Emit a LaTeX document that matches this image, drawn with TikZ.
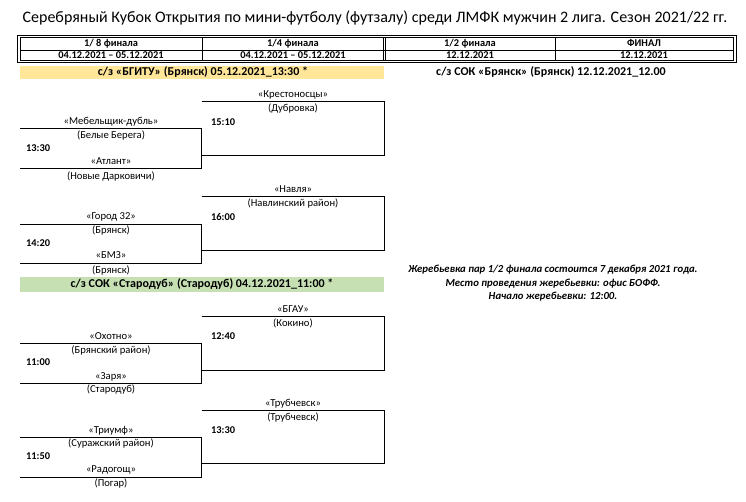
\documentclass[tikz,border=0pt]{standalone}
\usepackage{fontspec}
\setmainfont{Carlito}
\definecolor{barY}{HTML}{FFE699}
\definecolor{barG}{HTML}{C6E0B4}
\tikzset{
  team/.style={inner sep=0pt, anchor=center, font=\fontsize{10.6}{12}\selectfont},
  tm/.style={inner sep=0pt, anchor=west, font=\fontsize{10.4}{12}\selectfont\bfseries},
  hdr/.style={inner sep=0pt, anchor=center, font=\fontsize{10.4}{12}\selectfont\bfseries},
  ven/.style={inner sep=0pt, anchor=center, font=\fontsize{12}{14}\selectfont\bfseries},
  note/.style={inner sep=0pt, anchor=center, font=\fontsize{10.75}{12}\selectfont\bfseries\itshape},
  br/.style={line width=0.9pt},
  tb/.style={line width=0.8pt}
}
\begin{document}
\begin{tikzpicture}[x=1pt,y=-1pt]
\useasboundingbox (0,0) rectangle (746,501);
% title
\node[inner sep=0pt, font=\fontsize{16}{19}\selectfont] (title) at (375,18) {Серебряный Кубок Открытия по мини-футболу (футзалу) среди ЛМФК мужчин 2 лига. Сезон 2021/22 гг.};
% table
\draw[tb] (17,35) rectangle (736,62.5);
\draw[tb] (20,37.5) rectangle (733,60);
\draw[tb] (20,50) -- (733,50);
\draw[tb] (202,37.5) -- (202,60);
\draw[tb] (383.3,37.5) -- (383.3,60);
\draw[tb] (385.8,37.5) -- (385.8,60);
\draw[tb] (555,37.5) -- (555,60);
\node[hdr] (h1) at (111,43.5) {1/ 8 финала};
\node[hdr] (d1) at (111,55) {04.12.2021 – 05.12.2021};
\node[hdr] (h2) at (293,43.5) {1/4 финала};
\node[hdr] (d2) at (293,55) {04.12.2021 – 05.12.2021};
\node[hdr] (h3) at (470,43.5) {1/2 финала};
\node[hdr] (d3) at (470,55) {12.12.2021};
\node[hdr] (h4) at (644,43.5) {ФИНАЛ};
\node[hdr] (d4) at (644,55) {12.12.2021};
% venue bars
\fill[barY] (20,65.5) rectangle (384.3,79);
\node[ven] (v1) at (203,72) {с/з «БГИТУ» (Брянск) 05.12.2021\_13:30 *};
\node[ven] (v2) at (551,72) {с/з СОК «Брянск» (Брянск) 12.12.2021\_12.00};
\fill[barG] (20,277.3) rectangle (384.3,291.7);
\node[ven] (v3) at (202,284.5) {с/з СОК «Стародуб» (Стародуб) 04.12.2021\_11:00 *};
% notes
\node[note] (n1) at (553,270) {Жеребьевка пар 1/2 финала состоится 7 декабря 2021 года.};
\node[note] (n2) at (553,283.5) {Место проведения жеребьевки: офис БОФФ.};
\node[note] (n3) at (553,297) {Начало жеребьевки: 12:00.};
% ---------- block 1 ----------
\coordinate (a1) at (20,128.3); \coordinate (a2) at (201.7,128.3);
\coordinate (a3) at (201.7,168.8); \coordinate (a4) at (20,168.8);
\draw[br] (a1) -- (a2) -- (a3) -- (a4);
\coordinate (b1) at (201.7,101.5); \coordinate (b2) at (384.3,101.5);
\coordinate (b3) at (384.3,155); \coordinate (b4) at (201.7,155);
\draw[br] (b1) -- (b2) -- (b3) -- (b4);
\node[team] (t1) at (293,95) {«Крестоносцы»};
\node[team] (t1c) at (293,108.5) {(Дубровка)};
\node[tm] (m1) at (211,122.5) {15:10};
\node[team] (t2) at (111,121.5) {«Мебельщик-дубль»};
\node[team] (t2c) at (111,135) {(Белые Берега)};
\node[tm] (m2) at (26,148) {13:30};
\node[team] (t3) at (111,161.5) {«Атлант»};
\node[team] (t3c) at (111,176.5) {(Новые Дарковичи)};
% ---------- block 2 ----------
\coordinate (c1) at (20,224); \coordinate (c2) at (201.7,224);
\coordinate (c3) at (201.7,263.3); \coordinate (c4) at (20,263.3);
\draw[br] (c1) -- (c2) -- (c3) -- (c4);
\coordinate (e1) at (201.7,196.7); \coordinate (e2) at (384.3,196.7);
\coordinate (e3) at (384.3,250); \coordinate (e4) at (201.7,250);
\draw[br] (e1) -- (e2) -- (e3) -- (e4);
\node[team] (t4) at (293,189.5) {«Навля»};
\node[team] (t4c) at (293,203) {(Навлинский район)};
\node[tm] (m3) at (211,216.5) {16:00};
\node[team] (t5) at (111,216.5) {«Город 32»};
\node[team] (t5c) at (111,230) {(Брянск)};
\node[tm] (m4) at (26,243) {14:20};
\node[team] (t6) at (111,255.5) {«БМЗ»};
\node[team] (t6c) at (111,270.5) {(Брянск)};
% ---------- block 3 ----------
\coordinate (f1) at (20,343.3); \coordinate (f2) at (201.7,343.3);
\coordinate (f3) at (201.7,383.3); \coordinate (f4) at (20,383.3);
\draw[br] (f1) -- (f2) -- (f3) -- (f4);
\coordinate (g1) at (201.7,316.7); \coordinate (g2) at (384.3,316.7);
\coordinate (g3) at (384.3,370); \coordinate (g4) at (201.7,370);
\draw[br] (g1) -- (g2) -- (g3) -- (g4);
\node[team] (t7) at (293,309.5) {«БГАУ»};
\node[team] (t7c) at (293,323) {(Кокино)};
\node[tm] (m5) at (211,336.5) {12:40};
\node[team] (t8) at (111,336.5) {«Охотно»};
\node[team] (t8c) at (111,350.5) {(Брянский район)};
\node[tm] (m6) at (26,362.5) {11:00};
\node[team] (t9) at (111,376.5) {«Заря»};
\node[team] (t9c) at (111,389.5) {(Стародуб)};
% ---------- block 4 ----------
\coordinate (k1) at (20,437.3); \coordinate (k2) at (201.7,437.3);
\coordinate (k3) at (201.7,477.3); \coordinate (k4) at (20,477.3);
\draw[br] (k1) -- (k2) -- (k3) -- (k4);
\coordinate (l1) at (201.7,410); \coordinate (l2) at (384.3,410);
\coordinate (l3) at (384.3,463.3); \coordinate (l4) at (201.7,463.3);
\draw[br] (l1) -- (l2) -- (l3) -- (l4);
\node[team] (t10) at (293,403.5) {«Трубчевск»};
\node[team] (t10c) at (293,417) {(Трубчевск)};
\node[tm] (m7) at (211,430.5) {13:30};
\node[team] (t11) at (111,430.5) {«Триумф»};
\node[team] (t11c) at (111,443.5) {(Суражский район)};
\node[tm] (m8) at (26,456) {11:50};
\node[team] (t12) at (111,469.5) {«Радогощ»};
\node[team] (t12c) at (111,483.5) {(Погар)};
\end{tikzpicture}
\end{document}
